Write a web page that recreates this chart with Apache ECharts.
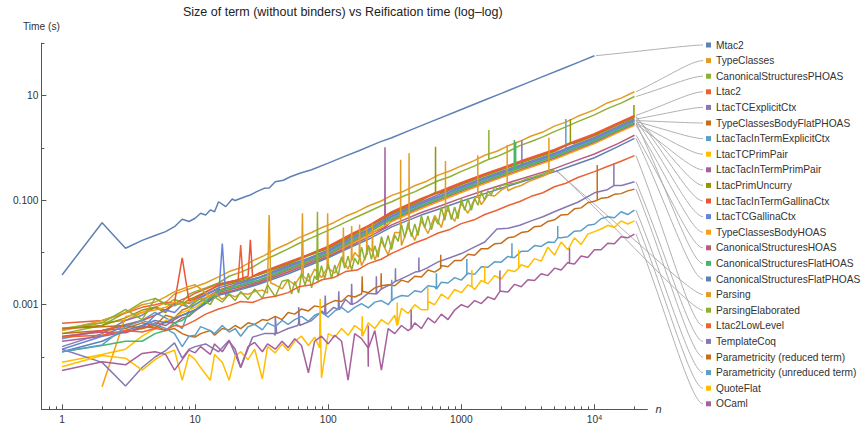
<!DOCTYPE html>
<html><head><meta charset="utf-8">
<script src="https://cdn.jsdelivr.net/npm/echarts@6/dist/echarts.min.js"></script>
<style>html,body{margin:0;padding:0;background:#fff}#c{width:866px;height:424px}</style>
</head><body><div id="c"></div>
<script>
// ---------- data (n = term size, t = reification time in seconds) ----------
const N_A = [1,2,3,4,5,6,7,8,9,10,12,15,18,22,27,33,40,50,60,75,90,110,135,165,200,250,300,370,450,550,670,820,1000,1250,1500,1850,2250,2750,3350,4100,5000,6100,7500,10000,12500,16000,20000];
const N_B = [1,2,3,4,5,6,7,8,9,10,11,13,14,16,18,20,22,25,28,32,35,40,45,50,56,63,71,79,89,100,112,126,141,158,178,200,224,251,282,316,355,398,447,501,562,631,708,794,891,1000,1122,1259,1413,1585,1778,1995,2239,2512,2818,3162,3548,3981,4467,5012,5623,6310,7079,7943,8913,10000,11220,12589,14125,15849,17783,20000];
const N_C = [1,2,3,4,5,6,7,8,9,10,15,20,30,50,70,100,150,200,300,500,700,1000,1500,2000,3000,5000,7000,10000,15000,20000];
const N_PE = [1,2,3,4,5,6,7,8,9,10,11,13,14,16,18,20,22,25,28,32,35,40,45,50,53,56,60,63,67,71,75,79,84,89,94,100,106,112,119,126,133,141,150,158,168,178,188,200,211,224,237,251,266,282,299,316,335,355,376,398,422,447,473,501,531,562,596,631,668,708,750,794,841,891,944,1000,1059,1122,1189,1259,1334,1413,1496,1585,1679,1778,1884,1995,2239,2512,2818,3162,3548,3981,4467,5012];
const MTAC2_N = [1,2,3,4,5,6,7,8,9,10,11,12,13,14,15,17,19,20,24,26,29,33,36,40,46,52,62,75,100,130,170,245,300,436,600,1000,1500,2000,3000,4000,6000,7800,10000];

const MTAC2 = [3.7e-3,0.037,0.012,0.017,0.021,0.025,0.031,0.043,0.039,0.045,0.056,0.052,0.065,0.060,0.093,0.075,0.105,0.098,0.117,0.125,0.145,0.168,0.17,0.225,0.24,0.28,0.33,0.38,0.51,0.67,0.88,1.30,1.56,2.3,3.2,5.4,8.2,11,16.7,22.5,34,44.5,57.7];
const TYPECLASSES = [3.2e-4,4.5e-4,5.0e-4,7.1e-4,8.9e-4,1.1e-3,1.6e-3,1.8e-3,2.0e-3,2.2e-3,2.6e-3,3.4e-3,4.3e-3,5.1e-3,6.9e-3,8.7e-3,0.0115,0.0148,0.019,0.024,0.030,0.037,0.049,0.060,0.077,0.096,0.123,0.148,0.19,0.23,0.30,0.36,0.45,0.57,0.72,0.86,1.09,1.33,1.68,2.0,2.6,3.1,4.0,5.3,7.2,9.0,11.8];
const CS_PHOAS = [2.8e-4,4.0e-4,7.1e-4,1.12e-3,1.32e-3,1.0e-3,1.26e-3,1.12e-3,1.58e-3,1.78e-3,2.1e-3,2.6e-3,3.5e-3,4.2e-3,5.2e-3,7.1e-3,8.9e-3,0.0117,0.0148,0.019,0.0234,0.0295,0.038,0.048,0.060,0.078,0.093,0.12,0.145,0.186,0.234,0.28,0.355,0.447,0.56,0.68,0.85,1.10,1.32,1.62,2.04,2.51,3.16,4.27,5.62,7.24,9.55];
const LTAC2 = [4.4e-4,5.0e-4,6.9e-4,8.9e-4,1.0e-3,1.12e-3,1.05e-3,1.26e-3,1.41e-3,1.66e-3,2.5e-3,2.9e-3,4.0e-3,6.6e-3,8.9e-3,0.0132,0.0229,0.0325,0.060,0.108,0.151,0.218,0.32,0.41,0.60,0.93,1.32,1.86,3.0,4.17];
const LTAC_TC_EXPLICIT = [1.58e-4,2.8e-4,5.0e-4,6.3e-4,8.9e-4,7.9e-4,1.0e-3,1.12e-3,1.05e-3,1.26e-3,2.1e-3,2.6e-3,3.3e-3,5.75e-3,7.6e-3,0.0112,0.0198,0.0275,0.053,0.092,0.132,0.185,0.27,0.354,0.51,0.79,1.12,1.58,2.57,3.55];
const TC_BODY_FLAT_PHOAS = [2.8e-4,3.2e-4,3.5e-4,4.5e-4,4.0e-4,6.3e-4,5.6e-4,7.9e-4,8.9e-4,1.0e-3,1.9e-3,2.4e-3,3.3e-3,5.25e-3,7.4e-3,0.0105,0.0181,0.0264,0.048,0.086,0.12,0.173,0.255,0.33,0.48,0.74,1.05,1.48,2.4,3.31];
const LTAC_TAC_EXPLICIT = [2.24e-4,3.2e-4,4.2e-4,5.0e-4,7.1e-4,5.6e-4,4.5e-4,3.5e-4,7.9e-4,1.0e-3,1.78e-3,2.2e-3,3.2e-3,5.0e-3,7.1e-3,0.010,0.0173,0.0253,0.0456,0.082,0.114,0.165,0.244,0.314,0.457,0.71,1.0,1.41,2.29,3.16];
const LTAC_TC_PRIMPAIR = [7.9e-5,1.12e-4,1.41e-4,2.5e-4,3.5e-4,5.0e-4,5.6e-4,7.1e-4,7.9e-4,8.9e-4,1.78e-3,2.1e-3,2.9e-3,4.7e-3,6.6e-3,9.3e-3,0.0161,0.0235,0.0426,0.0765,0.107,0.154,0.228,0.295,0.428,0.66,0.93,1.32,2.14,2.95];
const LTAC_TAC_PRIMPAIR = [2.0e-4,2.5e-4,3.0e-4,3.5e-4,4.5e-4,4.0e-4,5.2e-4,6.3e-4,7.1e-4,7.9e-4,1.7e-3,2.04e-3,2.75e-3,4.5e-3,6.3e-3,8.9e-3,0.0154,0.0224,0.0408,0.073,0.102,0.147,0.217,0.28,0.407,0.63,0.89,1.26,2.04,2.82];
const LTAC_PRIM_UNCURRY = [3.5e-4,4.0e-4,5.6e-4,7.9e-4,8.9e-4,7.1e-4,1.12e-3,1.0e-3,1.26e-3,1.41e-3,2.3e-3,2.75e-3,3.7e-3,6.0e-3,8.5e-3,0.012,0.0208,0.0302,0.055,0.098,0.138,0.199,0.293,0.38,0.546,0.85,1.2,1.7,2.75,3.8];
const LTAC_TAC_GALLINA = [2.4e-4,3.2e-4,4.0e-4,5.0e-4,6.3e-4,7.9e-4,1.1e-3,7.9e-3,1.17e-3,1.32e-3,2.4e-3,2.9e-3,3.9e-3,6.3e-3,8.9e-3,0.0126,0.0218,0.0319,0.0576,0.103,0.144,0.208,0.308,0.40,0.578,0.89,1.26,1.78,2.88,3.98];
const LTAC_TC_GALLINA = [1.41e-4,2.5e-4,4.0e-4,3.5e-4,6.3e-4,7.9e-4,7.1e-4,1.0e-3,8.9e-4,1.2e-3,2.04e-3,2.45e-3,3.3e-3,5.4e-3,7.6e-3,0.0107,0.0185,0.027,0.049,0.088,0.122,0.177,0.262,0.336,0.489,0.76,1.07,1.51,2.45,3.39];
const TC_BODY_HOAS = [null,2.7e-5,5.9e-4,7.1e-4,7.9e-4,8.9e-4,1.12e-3,1.0e-3,1.12e-3,1.2e-3,1.62e-3,1.95e-3,2.6e-3,4.3e-3,6.0e-3,8.5e-3,0.0147,0.0215,0.0389,0.069,0.097,0.14,0.207,0.269,0.388,0.60,0.85,1.2,1.95,2.69];
const CS_HOAS = [2.5e-4,3.0e-4,2.9e-4,3.8e-4,3.6e-4,4.7e-4,4.4e-4,5.6e-4,6.0e-4,7.6e-4,1.58e-3,1.9e-3,2.6e-3,4.2e-3,5.9e-3,8.3e-3,0.0137,0.0196,0.0336,0.058,0.078,0.109,0.154,0.195,0.268,0.40,0.55,0.76,1.2,1.74];
const CS_FLAT_HOAS = [1.26e-4,1.66e-4,2.0e-4,2.0e-4,2.8e-4,3.2e-4,4.5e-4,5.0e-4,6.3e-4,7.9e-4,1.82e-3,2.2e-3,2.95e-3,4.8e-3,6.8e-3,9.5e-3,0.0164,0.0242,0.0432,0.078,0.109,0.158,0.233,0.302,0.439,0.68,0.955,1.35,2.19,3.02];
const CS_FLAT_PHOAS = [1.26e-4,2.0e-4,3.2e-4,4.0e-4,5.0e-4,4.5e-4,5.6e-4,6.3e-4,7.1e-4,7.9e-4,1.51e-3,1.82e-3,2.45e-3,3.9e-3,5.5e-3,7.9e-3,0.0128,0.0178,0.0308,0.0517,0.069,0.095,0.133,0.169,0.234,0.347,0.468,0.646,1.05,1.51];
const PARSING = [3.2e-4,5.0e-4,7.1e-4,1.0e-3,1.12e-3,1.41e-3,1.78e-3,2.0e-3,2.24e-3,2.4e-3,
 2.0e-3,1.41e-3,1.66e-3,1.26e-3,1.58e-3,1.41e-3,1.66e-3,1.58e-3,1.78e-3,1.9e-3,
 1.66e-3,2.4e-3,2.0e-3,3.0e-3,2.4e-3,3.8e-3,2.8e-3,4.8e-3,3.3e-3,6.0e-3,
 4.0e-3,7.9e-3,4.8e-3,0.010,5.6e-3,0.0132,7.1e-3,0.0166,8.9e-3,0.024,
 0.0135,0.030,0.017,0.040,0.023,0.051,0.030,0.064,0.039,0.086,
 0.056,0.107,0.082,0.125,0.12,0.155,0.151,0.174,0.19,0.224,
 0.25,0.28,0.316,0.363];
const PARSING_ELAB = [3.5e-4,4.5e-4,8.1e-4,5.2e-4,1.32e-3,1.05e-3,9.5e-4,1.12e-3,8.9e-4,1.12e-3,
 1.32e-3,1.0e-3,1.41e-3,1.12e-3,1.58e-3,1.2e-3,1.78e-3,1.26e-3,2.0e-3,1.32e-3,2.4e-3,1.41e-3,2.8e-3,
 3.0e-3,1.6e-3,2.8e-3,1.68e-3,4.0e-3,2.37e-3,4.0e-3,2.1e-3,3.55e-3,2.66e-3,5.6e-3,3.1e-3,
 6.0e-3,3.2e-3,5.75e-3,3.5e-3,8.3e-3,5.0e-3,8.5e-3,4.6e-3,7.8e-3,5.9e-3,
 0.0126,7.1e-3,0.0138,7.4e-3,0.0135,8.1e-3,0.020,0.0122,0.021,0.0113,
 0.0214,0.0162,0.034,0.019,0.037,0.020,0.035,0.021,0.050,0.030,
 0.050,0.027,0.0455,0.0345,0.073,0.041,0.079,0.0425,0.074,0.044,
 0.107,0.064,0.107,0.064,0.107,0.080,0.144,0.10,0.15,0.127,0.18,0.16,0.19,
 0.20,0.21,0.23,0.26,0.28,0.31,0.345,0.38];
const LTAC2_LOWLEVEL = [2.4e-4,2.6e-4,3.2e-4,3.0e-4,3.5e-4,3.3e-4,4.0e-4,3.8e-4,4.4e-4,5.0e-4,6.6e-4,8.3e-4,9.5e-4,1.15e-3,1.1e-3,1.35e-3,1.45e-3,1.7e-3,2.2e-3,2.4e-3,3.0e-3,3.3e-3,4.3e-3,4.6e-3,6.1e-3,7.4e-3,9.6e-3,0.0122,0.0153,0.0185,0.0235,0.0275,0.0355,0.042,0.053,0.064,0.079,0.094,0.118,0.138,0.18,0.21,0.27,0.35,0.44,0.56,0.71];
const TEMPLATECOQ = [1.41e-4,7.9e-5,2.8e-5,6.3e-5,1.0e-4,1.32e-4,1.86e-4,9.5e-5,1.41e-4,1.58e-4,1.78e-4,1.26e-4,2.1e-4,6.3e-5,2.4e-4,2.8e-4,2.6e-4,3.5e-4,4.5e-4,5.0e-4,7.6e-4,8.9e-4,1.26e-3,1.12e-3,1.66e-3,2.0e-3,2.5e-3,3.3e-3,4.2e-3,5.0e-3,6.6e-3,7.9e-3,9.5e-3,0.0126,0.0158,0.028,0.029,0.033,0.040,0.048,0.060,0.074,0.091,0.138,0.158,0.19,0.224];
const PARAM_REDUCED = [3.5e-4,3.8e-4,4.0e-4,3.5e-4,4.0e-4,3.2e-4,3.5e-4,2.8e-4,2.5e-4,2.4e-4,
 2.8e-4,3.2e-4,2.6e-4,3.5e-4,3.3e-4,4.0e-4,3.5e-4,4.5e-4,4.2e-4,5.2e-4,
 5.0e-4,6.0e-4,5.2e-4,7.1e-4,6.6e-4,8.3e-4,7.6e-4,9.5e-4,8.9e-4,1.05e-3,
 1.2e-3,1.15e-3,1.5e-3,1.4e-3,1.6e-3,1.7e-3,2.1e-3,1.95e-3,2.4e-3,2.3e-3,
 2.95e-3,2.7e-3,3.5e-3,3.4e-3,4.6e-3,4.2e-3,5.6e-3,5.3e-3,7.0e-3,7.0e-3,
 9.2e-3,8.8e-3,0.0118,0.0118,0.0146,0.015,0.019,0.020,0.024,0.025,
 0.031,0.032,0.039,0.042,0.052,0.053,0.068,0.071,0.089,0.095,
 0.108,0.112,0.129,0.133,0.15,0.162];
const PARAM_UNREDUCED = [1.26e-4,1.7e-4,3.8e-4,5.0e-4,4.2e-4,3.5e-4,2.8e-4,1.58e-4,2.5e-4,2.6e-4,
 3.8e-4,3.2e-4,2.8e-4,4.0e-4,3.0e-4,3.5e-4,2.5e-4,3.8e-4,4.2e-4,3.3e-4,
 4.5e-4,3.8e-4,5.0e-4,4.2e-4,5.2e-4,6.0e-4,4.8e-4,6.3e-4,7.1e-4,5.8e-4,
 7.6e-4,8.9e-4,7.1e-4,8.9e-4,1.05e-3,8.7e-4,1.12e-3,1.2e-3,1.0e-3,1.32e-3,
 1.5e-3,1.45e-3,1.85e-3,1.75e-3,2.3e-3,2.2e-3,2.7e-3,2.6e-3,3.3e-3,2.95e-3,
 4.0e-3,3.8e-3,5.3e-3,5.2e-3,6.6e-3,6.5e-3,8.4e-3,8.0e-3,0.0105,0.0105,
 0.0135,0.013,0.0158,0.0155,0.019,0.020,0.0255,0.026,0.033,0.0345,
 0.044,0.048,0.046,0.060,0.053,0.064];
const QUOTEFLAT = [6.5e-5,1.07e-4,9.5e-5,5.6e-5,8.9e-5,1.17e-4,1.35e-4,3.6e-5,1.12e-4,8.9e-5,
 6.3e-5,3.6e-5,1.12e-4,7.9e-5,3.6e-5,1.05e-4,1.26e-4,8.9e-5,1.41e-4,3.8e-5,
 1.58e-4,1.2e-4,1.78e-4,1.32e-4,2.0e-4,2.5e-4,1.66e-4,2.4e-4,4.0e-5,2.8e-4,
 2.4e-4,3.5e-4,2.6e-4,4.0e-4,3.2e-4,4.5e-4,3.5e-4,5.2e-4,4.2e-4,6.3e-4,
 8.5e-4,6.8e-4,1.0e-3,8.0e-4,1.15e-3,1.0e-3,1.6e-3,1.3e-3,1.95e-3,1.7e-3,
 2.4e-3,1.95e-3,2.9e-3,2.5e-3,3.6e-3,3.1e-3,4.6e-3,4.3e-3,5.8e-3,5.2e-3,
 7.6e-3,6.8e-3,0.0126,8.9e-3,0.0158,0.0112,0.019,0.0141,0.0224,0.025,
 0.028,0.033,0.030,0.040,0.035,0.040];
const OCAML = [5.5e-5,8.1e-5,7.1e-5,1.17e-4,1.26e-4,1.12e-4,5.6e-5,8.9e-5,1.35e-4,1.2e-4,
 1.58e-4,1.12e-4,1.78e-4,1.26e-4,2.0e-4,1.41e-4,6.3e-5,1.58e-4,1.9e-4,1.26e-4,
 1.78e-4,1.41e-4,2.0e-4,1.51e-4,2.24e-4,1.66e-4,5.0e-5,2.0e-4,2.5e-4,1.78e-4,
 2.6e-4,2.0e-4,3.6e-5,2.8e-4,2.24e-4,6.5e-5,3.2e-4,5.6e-5,3.5e-4,2.8e-4,
 4.0e-4,3.2e-4,4.5e-4,3.5e-4,5.6e-4,4.5e-4,6.6e-4,5.2e-4,7.9e-4,1.0e-3,
 8.9e-4,1.2e-3,1.05e-3,1.41e-3,1.26e-3,1.8e-3,1.75e-3,2.45e-3,2.2e-3,3.0e-3,
 2.9e-3,3.9e-3,3.6e-3,5.0e-3,4.6e-3,6.4e-3,6.0e-3,8.5e-3,8.0e-3,0.0112,
 0.0112,0.015,0.0146,0.020,0.019,0.0224];

// isolated single-size outliers: [series, n, level around it, outlier value]
const SPIKES = [
 ['LtacTCGallinaCtx',16,1.4e-3,0.0148],['Ltac2',22,2.7e-3,0.0138],['LtacTacInTermGallinaCtx',26,3.5e-3,0.0174],
 ['Parsing',36,2.6e-3,0.052],['Parsing',64,3.5e-3,0.056],['ParsingElaborated',83,3.0e-3,0.06],['Parsing',99,5.0e-3,0.056],
 ['Parsing',130,6.5e-3,0.03],['Parsing',150,7.0e-3,0.032],['Parsing',172,8.0e-3,0.034],['Parsing',195,9.0e-3,0.03],['Parsing',215,0.0105,0.036],
 ['LtacTacInTermPrimPair',267,0.03,1.02],['Parsing',350,0.024,0.59],['Parsing',405,0.028,0.79],['LtacPrimUncurry',640,0.14,1.05],
 ['Parsing',760,0.06,0.56],['Parsing',1330,0.12,0.72],['CanonicalStructuresPHOAS',1610,0.6,2.2],['Parsing',2210,0.18,1.13],
 ['CanonicalStructuresFlatHOAS',2500,0.38,1.41],['CanonicalStructuresFlatHOAS',2560,0.39,1.3],['LtacTCExplicitCtx',2850,0.48,1.41],
 ['Parsing',4550,0.33,1.55],['LtacTacInTermExplicitCtx',6100,0.88,3.55],['LtacPrimUncurry',6600,1.25,3.55],
 ['Parametricity (reduced term)',10500,0.10,0.47],['TemplateCoq',14000,0.19,0.5],['LtacPrimUncurry',19800,3.75,6.6],
 ['QuoteFlat',87,1.5e-4,1.3e-3],['QuoteFlat',180,2.5e-4,6.0e-4],['QuoteFlat',330,4.0e-4,1.1e-3],['QuoteFlat',560,8.0e-4,2.2e-3],
 ['QuoteFlat',1200,2.2e-3,4.6e-3],['QuoteFlat',1500,2.7e-3,5.5e-3],['QuoteFlat',2700,5.0e-3,0.0112],
 ['OCaml',200,1.5e-4,4.0e-4],['OCaml',420,3.5e-4,8.0e-4],['OCaml',1950,1.8e-3,4.5e-3],['OCaml',6500,6.2e-3,0.012],
 ['TemplateCoq',40,2.8e-4,6.0e-4],['TemplateCoq',60,4.0e-4,9.0e-4],['TemplateCoq',95,6.5e-4,1.5e-3],['TemplateCoq',120,8.0e-4,1.8e-3],
 ['TemplateCoq',150,1.0e-3,2.5e-3],['TemplateCoq',230,1.6e-3,3.5e-3],['TemplateCoq',320,2.8e-3,5.0e-3],['TemplateCoq',480,4.3e-3,8.0e-3],
 ['Parametricity (reduced term)',180,1.8e-3,3.5e-3],['Parametricity (reduced term)',250,2.3e-3,4.0e-3],['Parametricity (reduced term)',700,5.0e-3,9.0e-3],
 ['Parametricity (unreduced term)',300,1.2e-3,3.0e-3],['Parametricity (unreduced term)',650,2.0e-3,4.0e-3],
 ['Parametricity (unreduced term)',1100,3.8e-3,7.5e-3],['Parametricity (unreduced term)',2400,8.0e-3,0.015],['Parametricity (unreduced term)',5300,0.019,0.032]
];

const SERIES_NAMES = ['Mtac2','TypeClasses','CanonicalStructuresPHOAS','Ltac2','LtacTCExplicitCtx','TypeClassesBodyFlatPHOAS','LtacTacInTermExplicitCtx','LtacTCPrimPair','LtacTacInTermPrimPair','LtacPrimUncurry','LtacTacInTermGallinaCtx','LtacTCGallinaCtx','TypeClassesBodyHOAS','CanonicalStructuresHOAS','CanonicalStructuresFlatHOAS','CanonicalStructuresFlatPHOAS','Parsing','ParsingElaborated','Ltac2LowLevel','TemplateCoq','Parametricity (reduced term)','Parametricity (unreduced term)','QuoteFlat','OCaml'];
const SERIES_N = [MTAC2_N,N_A,N_A,N_C,N_C,N_C,N_C,N_C,N_C,N_C,N_C,N_C,N_C,N_C,N_C,N_C,N_B,N_PE,N_A,N_A,N_B,N_B,N_B,N_B];
const SERIES_T = [MTAC2,TYPECLASSES,CS_PHOAS,LTAC2,LTAC_TC_EXPLICIT,TC_BODY_FLAT_PHOAS,LTAC_TAC_EXPLICIT,LTAC_TC_PRIMPAIR,LTAC_TAC_PRIMPAIR,LTAC_PRIM_UNCURRY,LTAC_TAC_GALLINA,LTAC_TC_GALLINA,TC_BODY_HOAS,CS_HOAS,CS_FLAT_HOAS,CS_FLAT_PHOAS,PARSING,PARSING_ELAB,LTAC2_LOWLEVEL,TEMPLATECOQ,PARAM_REDUCED,PARAM_UNREDUCED,QUOTEFLAT,OCAML];
const SERIES_COLORS = ['#5E81B5','#E19C24','#8FB032','#EB6235','#8778B3','#C56E1A','#5D9EC7','#FFBF00','#A5609D','#929600','#E95536','#6685D9','#F89F13','#BC5B80','#47B66D','#5E81B5','#E19C24','#8FB032','#EB6235','#8778B3','#C56E1A','#5D9EC7','#FFBF00','#A5609D'];

const X_TICKS = [1,10,100,1000,10000];
const X_TICK_TEXT = ['1','10','100','1000','10{s|4}'];
const X_MINOR = [0.7,0.8,0.9,2,3,4,5,6,7,8,9,20,30,40,50,60,70,80,90,200,300,400,500,600,700,800,900,2000,3000,4000,5000,6000,7000,8000,9000,20000];
const Y_TICKS = [0.001,0.1,10];
const Y_TICK_TEXT = ['0.001','0.100','10'];
const Y_MINOR = [1e-4,0.01,1,100];
const TITLE = 'Size of term (without binders) vs Reification time (log\u2013log)';

// ---------- build ----------
const FONT = '"Liberation Sans", Arial, Helvetica, sans-serif';
const problems = [];
function buildData(nArr, tArr, name) {
  if (tArr.length !== nArr.length && nArr !== N_B) problems.push(name + ' len ' + tArr.length + ' vs ' + nArr.length);
  if (tArr.length > nArr.length) problems.push(name + ' too long');
  const pts = [];
  for (let i = 0; i < tArr.length; i++) if (tArr[i] != null) pts.push([nArr[i], tArr[i]]);
  SPIKES.forEach(s => { if (s[0] === name) pts.push([s[1] - 1, s[2]], [s[1], s[3]], [s[1] + 1, s[2]]); });
  pts.sort((a, b) => a[0] - b[0]);
  return pts;
}
function matchIdx(list, v) { return list.findIndex(t => Math.abs(Math.log10(t) - Math.log10(v)) < 1e-6); }

const chart = echarts.init(document.getElementById('c'), null, {renderer: 'svg', width: 866, height: 424});
const series = SERIES_NAMES.map((name, i) => ({
  type: 'line', name, data: buildData(SERIES_N[i], SERIES_T[i], name),
  showSymbol: false, symbol: 'none', animation: false, silent: true,
  lineStyle: {color: SERIES_COLORS[i], width: 1.5}, itemStyle: {color: SERIES_COLORS[i]},
  emphasis: {disabled: true}, z: 2
}));
const axisColor = '#555';
const labelStyle = {fontFamily: FONT, fontSize: 10.2, color: '#333'};
const option = {
  animation: false,
  backgroundColor: '#fff',
  title: {text: TITLE, left: 183, top: 5, padding: 0, textStyle: {fontFamily: FONT, fontSize: 12.5, fontWeight: 'normal', color: '#222'}},
  legend: {orient: 'vertical', left: 706, top: 39, padding: 0, itemGap: 3.6, itemWidth: 5, itemHeight: 5, icon: 'rect',
    selectedMode: false, data: SERIES_NAMES, textStyle: {fontFamily: FONT, fontSize: 10.2, color: '#333', lineHeight: 12}},
  grid: {left: 41.4, top: 43.2, width: 606, height: 366.1, outerBoundsMode: 'none'},
  xAxis: [
    {type: 'log', logBase: 10, min: 0.7, max: 25000, position: 'bottom',
     name: 'n', nameLocation: 'end', nameGap: 8, nameTextStyle: {fontFamily: FONT, fontSize: 11, fontStyle: 'italic', color: '#333'},
     axisLine: {show: true, onZero: false, lineStyle: {color: axisColor, width: 1}},
     axisTick: {show: true, inside: true, length: 5, customValues: X_TICKS, lineStyle: {color: axisColor}},
     axisLabel: Object.assign({customValues: X_TICKS, margin: 5,
       formatter: v => { const i = matchIdx(X_TICKS, v); return i >= 0 ? X_TICK_TEXT[i] : ''; },
       rich: {s: {fontFamily: FONT, fontSize: 7, color: '#333', verticalAlign: 'top', lineHeight: 8}}}, labelStyle),
     splitLine: {show: false}, minorTick: {show: false}},
    {type: 'log', logBase: 10, min: 0.7, max: 25000, position: 'bottom',
     axisLine: {show: false}, axisTick: {show: true, inside: true, length: 3, customValues: X_MINOR, lineStyle: {color: axisColor}},
     axisLabel: {show: false}, splitLine: {show: false}}
  ],
  yAxis: [
    {type: 'log', logBase: 10, min: 1e-5, max: 100, position: 'left',
     name: 'Time (s)', nameLocation: 'end', nameGap: 12, nameTextStyle: {fontFamily: FONT, fontSize: 10.2, color: '#333'},
     axisLine: {show: true, onZero: false, lineStyle: {color: axisColor, width: 1}},
     axisTick: {show: true, inside: true, length: 5, customValues: Y_TICKS, lineStyle: {color: axisColor}},
     axisLabel: Object.assign({customValues: Y_TICKS, margin: 3,
       formatter: v => { const i = matchIdx(Y_TICKS, v); return i >= 0 ? Y_TICK_TEXT[i] : ''; }}, labelStyle),
     splitLine: {show: false}},
    {type: 'log', logBase: 10, min: 1e-5, max: 100, position: 'left',
     axisLine: {show: false}, axisTick: {show: true, inside: true, length: 3, customValues: Y_MINOR, lineStyle: {color: axisColor}},
     axisLabel: {show: false}, splitLine: {show: false}}
  ],
  series
};
chart.setOption(option);

// leader lines from the end of each curve to its legend entry
const LEG_X = 703, LEG_Y0 = 45, LEG_STEP = 15.6;
const leaders = series.map((s, i) => {
  const last = s.data[s.data.length - 1];
  const p = chart.convertToPixel({xAxisIndex: 0, yAxisIndex: 0}, last);
  const x0 = p[0] + 1.5, y0 = p[1], x3 = LEG_X, y3 = LEG_Y0 + i * LEG_STEP;
  return {type: 'bezierCurve', silent: true, z: 1,
    shape: {x1: x0, y1: y0, x2: x3, y2: y3, cpx1: x0 + (x3 - x0) * 0.45, cpy1: y0 + (y3 - y0) * 0.45, cpx2: x3 - 12, cpy2: y3},
    style: {stroke: '#a8a8a8', lineWidth: 0.9, fill: 'none'}};
});
if (problems.length) leaders.push({type: 'text', left: 300, top: 60, style: {text: problems.join('\n'), fill: 'red', fontSize: 12}});
chart.setOption({graphic: {elements: leaders}});
</script></body></html>
